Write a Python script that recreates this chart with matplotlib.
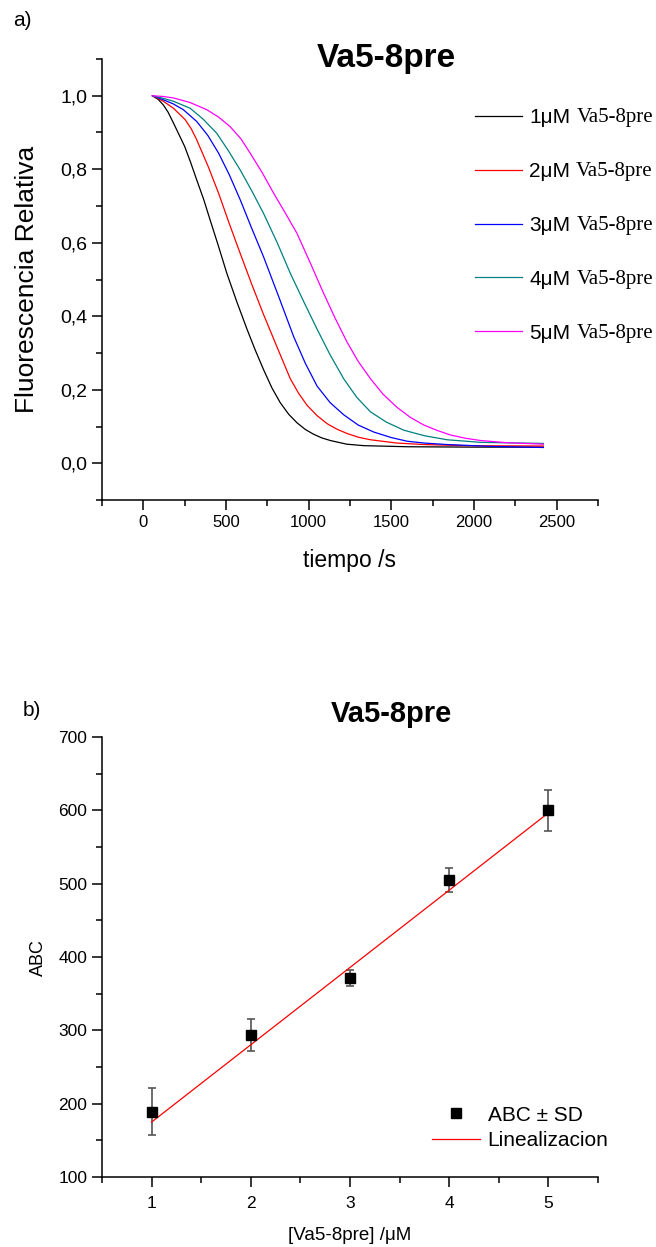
import matplotlib
matplotlib.use('Agg')
import matplotlib.pyplot as plt
from matplotlib.lines import Line2D
from matplotlib.transforms import IdentityTransform
from matplotlib.ticker import MultipleLocator, FuncFormatter

plt.rcParams['font.family'] = ['Liberation Sans', 'DejaVu Sans']

# panel a: relative fluorescence vs time
t_1 = [55, 90, 121, 150, 182, 215, 250, 285, 323, 365, 404, 455, 505, 565, 627, 677, 727,
       778, 828, 880, 930, 980, 1030, 1080, 1131, 1230, 1333, 1600, 2000, 2420]
f_1 = [1.0, 0.99, 0.975, 0.955, 0.926, 0.895, 0.862, 0.82, 0.771, 0.718, 0.662, 0.59, 0.517,
       0.44, 0.365, 0.308, 0.255, 0.205, 0.165, 0.133, 0.11, 0.092, 0.079, 0.069, 0.062, 0.052,
       0.048, 0.045, 0.044, 0.044]
t_2 = [55, 121, 182, 253, 290, 323, 390, 455, 520, 586, 655, 727, 810, 889, 940, 990, 1050,
       1111, 1170, 1233, 1300, 1374, 1535, 1700, 1939, 2420]
f_2 = [1.0, 0.985, 0.966, 0.935, 0.91, 0.880, 0.81, 0.735, 0.652, 0.571, 0.488, 0.405, 0.315,
       0.23, 0.19, 0.158, 0.13, 0.108, 0.093, 0.081, 0.071, 0.064, 0.055, 0.051, 0.048, 0.047]
t_3 = [55, 121, 180, 242, 323, 390, 455, 520, 586, 655, 727, 820, 909, 980, 1051, 1130, 1212,
       1300, 1394, 1500, 1596, 1700, 1838, 2100, 2420]
f_3 = [1.0, 0.989, 0.978, 0.962, 0.930, 0.892, 0.844, 0.785, 0.717, 0.64, 0.562, 0.452, 0.345,
       0.272, 0.21, 0.165, 0.132, 0.104, 0.085, 0.07, 0.06, 0.055, 0.051, 0.046, 0.043]
t_4 = [55, 120, 182, 283, 360, 444, 515, 586, 655, 727, 810, 889, 970, 1051, 1130, 1212, 1290,
       1374, 1470, 1576, 1700, 1838, 2040, 2420]
f_4 = [1.0, 0.993, 0.985, 0.966, 0.937, 0.898, 0.85, 0.798, 0.742, 0.680, 0.60, 0.517, 0.44,
       0.365, 0.295, 0.23, 0.18, 0.14, 0.112, 0.09, 0.075, 0.064, 0.057, 0.054]
t_5 = [55, 120, 182, 280, 384, 455, 525, 590, 646, 720, 788, 860, 929, 1010, 1091, 1160, 1232,
       1300, 1374, 1450, 1535, 1615, 1697, 1780, 1858, 1950, 2040, 2200, 2420]
f_5 = [1.0, 0.998, 0.994, 0.982, 0.962, 0.942, 0.916, 0.883, 0.844, 0.79, 0.735, 0.68, 0.626,
       0.545, 0.462, 0.395, 0.33, 0.277, 0.23, 0.188, 0.152, 0.125, 0.104, 0.089, 0.077, 0.068,
       0.062, 0.056, 0.052]

labels_a = ['1\u03bcM', '2\u03bcM', '3\u03bcM', '4\u03bcM', '5\u03bcM']
colors_a = ['black', 'red', 'blue', '#008080', '#ff00ff']

# panel b: area under curve vs concentration
conc = [1, 2, 3, 4, 5]
abc = [189, 294, 372, 505, 600]
sd = [32, 22, 11, 16, 28]
fit_slope = 105.4
fit_intercept = 69.6

fig = plt.figure(figsize=(6.56, 12.47), dpi=100)
ax1 = fig.add_axes([0.1555, 0.599, 0.756, 0.3537])
ax2 = fig.add_axes([0.1555, 0.0561, 0.756, 0.3528])

# ---- top panel
series = [(t_1, f_1), (t_2, f_2), (t_3, f_3), (t_4, f_4), (t_5, f_5)]
for (t, f), c, lab in zip(series, colors_a, labels_a):
    ax1.plot(t, f, color=c, lw=0.9, label=lab)

ax1.set_xlim(-250, 2750)
ax1.set_ylim(-0.1, 1.1)
ax1.xaxis.set_major_locator(MultipleLocator(500))
ax1.xaxis.set_minor_locator(MultipleLocator(250))
ax1.yaxis.set_major_locator(MultipleLocator(0.2))
ax1.yaxis.set_minor_locator(MultipleLocator(0.1))
ax1.yaxis.set_major_formatter(FuncFormatter(lambda v, p: f'{v:.1f}'.replace('.', ',')))
ax1.set_xlabel('tiempo /s', fontsize=16.5, labelpad=14)
ax1.set_ylabel('Fluorescencia Relativa', fontsize=19, labelpad=15)

leg = ax1.legend(loc='upper left', bbox_to_anchor=(0.753, 0.888), frameon=False,
                 fontsize=15, handlelength=2.25, handletextpad=0.33,
                 labelspacing=1.67, borderpad=0, borderaxespad=0)

# ---- bottom panel
ax2.errorbar(conc, abc, yerr=sd, fmt='s', color='black', ms=7,
             ecolor='#555555', elinewidth=1.2, capsize=3, capthick=1.2)
fit_x = [conc[0], conc[-1]]
fit_y = [fit_slope * x + fit_intercept for x in fit_x]
ax2.plot(fit_x, fit_y, color='red', lw=0.9)

ax2.set_xlim(0.5, 5.5)
ax2.set_ylim(100, 700)
ax2.xaxis.set_major_locator(MultipleLocator(1))
ax2.xaxis.set_minor_locator(MultipleLocator(0.5))
ax2.yaxis.set_major_locator(MultipleLocator(100))
ax2.yaxis.set_minor_locator(MultipleLocator(50))
ax2.set_xlabel('[Va5-8pre] /\u03bcM', fontsize=13.5, labelpad=11)
ax2.set_ylabel('ABC', fontsize=13, labelpad=8)

handles = [Line2D([], [], marker='s', ls='none', color='black', ms=7),
           Line2D([], [], color='red', lw=0.9)]
ax2.legend(handles, ['ABC \u00b1 SD', 'Linealizacion'], loc='upper left',
           bbox_to_anchor=(0.666, 0.162), frameon=False, fontsize=15,
           handlelength=2.3, handletextpad=0.35, labelspacing=0.32,
           borderpad=0, borderaxespad=0)

for ax in [ax1, ax2]:
    ax.spines['top'].set_visible(False)
    ax.spines['right'].set_visible(False)
    ax.spines['left'].set_linewidth(1.1)
    ax.spines['bottom'].set_linewidth(1.1)
    ax.tick_params(which='major', direction='out', length=7, width=1.1)
    ax.tick_params(which='minor', direction='out', length=4, width=1.1)
ax1.tick_params(axis='x', labelsize=12)
ax1.tick_params(axis='y', labelsize=14)
ax2.tick_params(axis='both', labelsize=12.5)
ax2.tick_params(axis='x', pad=7)

fig.text(386 / 656, 1 - 59 / 1247, 'Va5-8pre', fontsize=24, fontweight='bold', ha='center', va='center')
fig.text(391 / 656, 1 - 714 / 1247, 'Va5-8pre', fontsize=21, fontweight='bold', ha='center', va='center')
fig.text(13 / 656, 1 - 20 / 1247, 'a)', fontsize=15, va='center')
fig.text(23 / 656, 1 - 710 / 1247, 'b)', fontsize=15, va='center')

# serif part of the legend labels, placed right after each sans label
fig.canvas.draw()
renderer = fig.canvas.get_renderer()
for txt in leg.get_texts():
    bb = txt.get_window_extent(renderer)
    fig.text(bb.x1 + 6, bb.y0, 'Va5-8pre', transform=IdentityTransform(),
             fontsize=15, family='Liberation Serif', ha='left', va='bottom')

fig.savefig('out.png', dpi=100)
